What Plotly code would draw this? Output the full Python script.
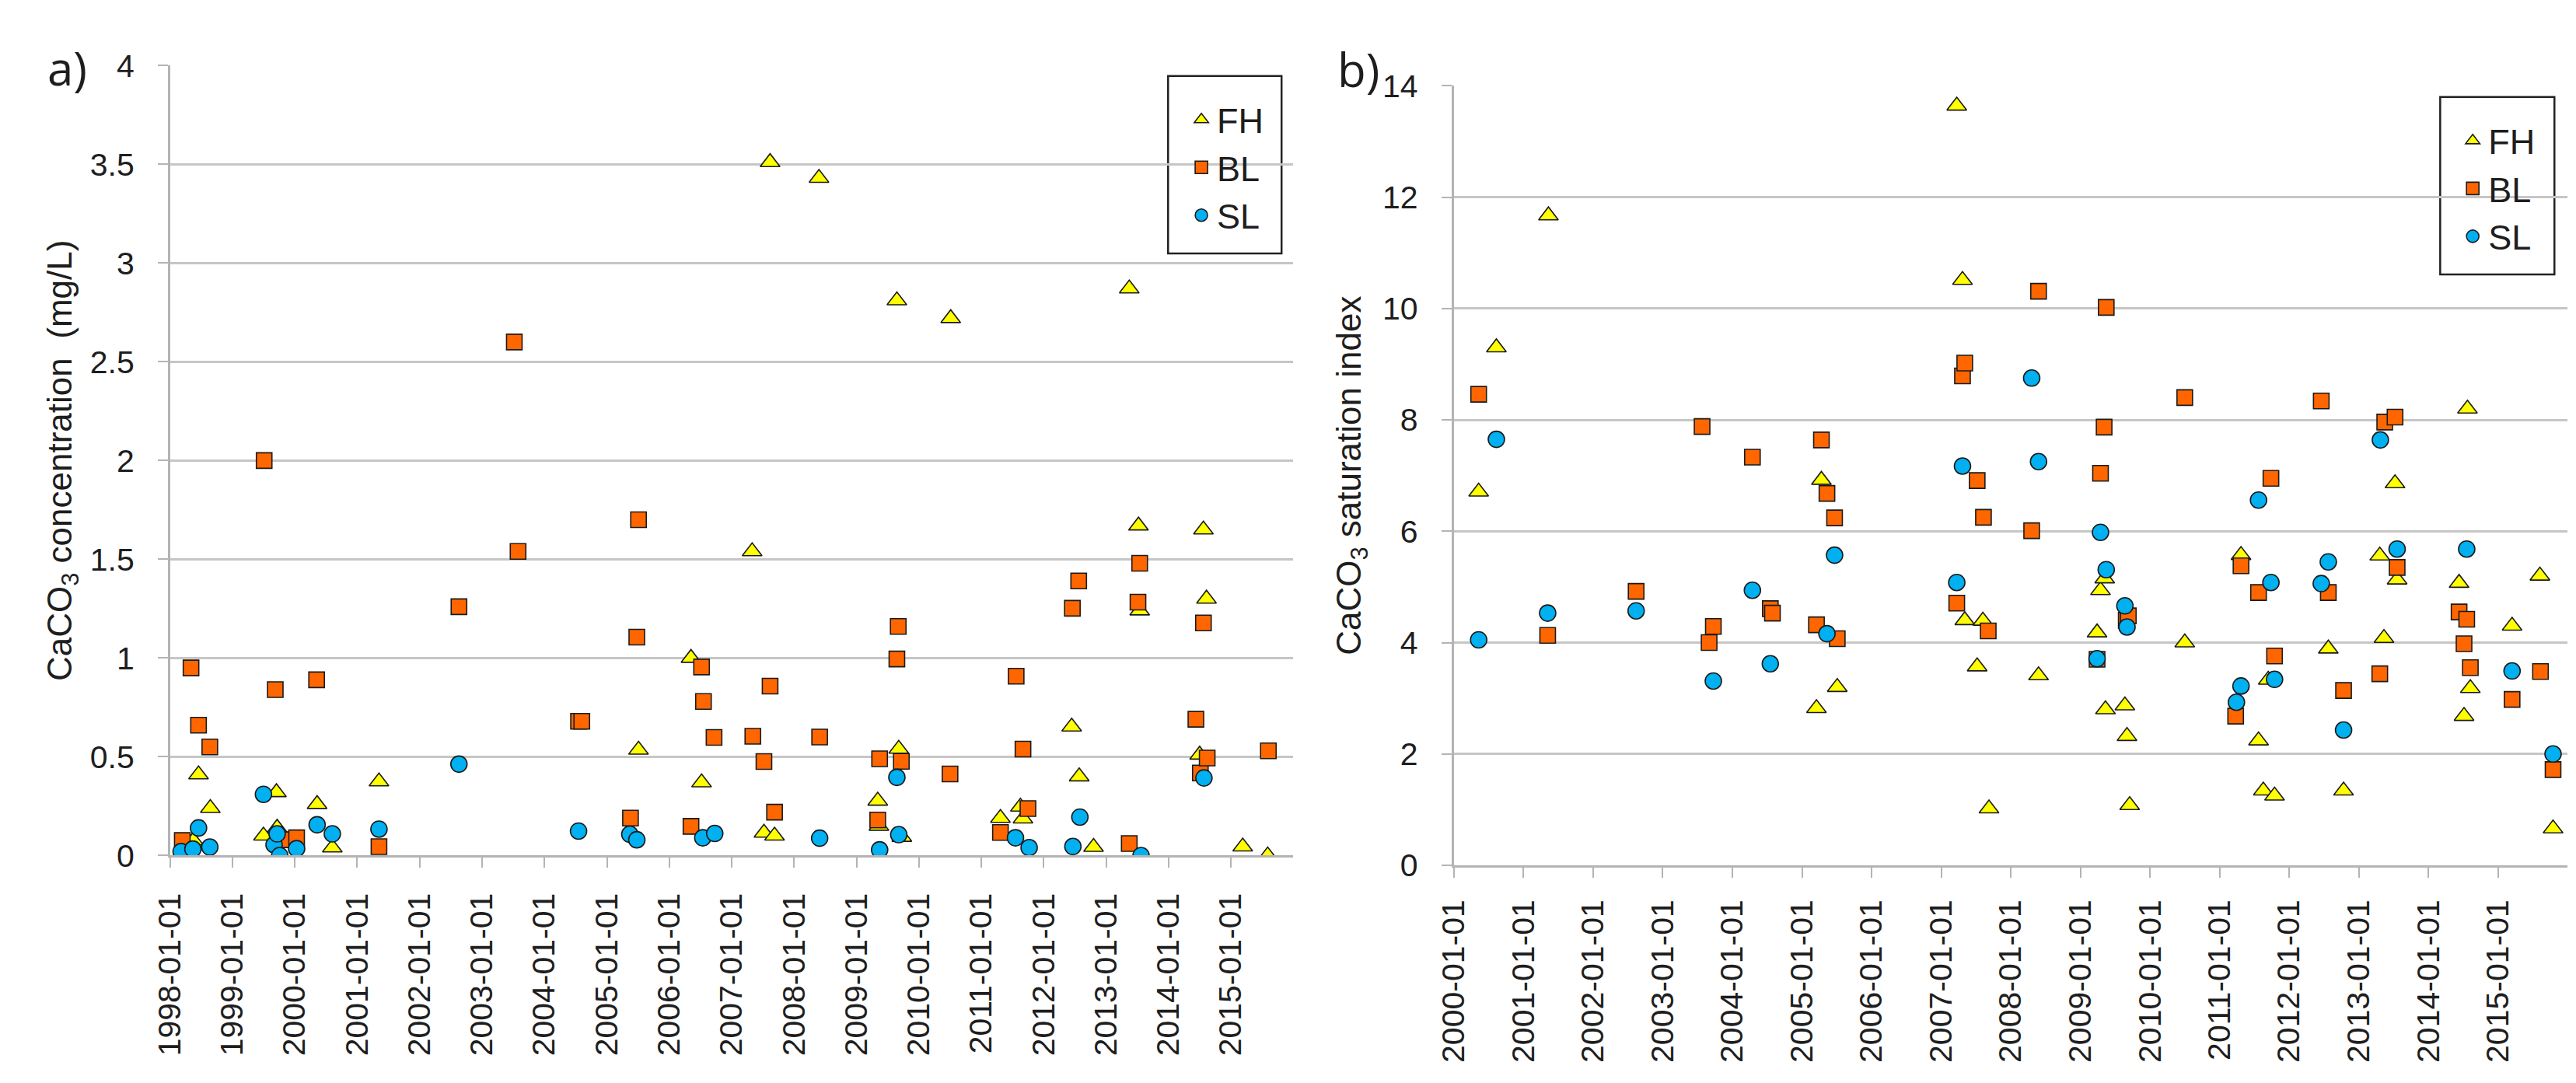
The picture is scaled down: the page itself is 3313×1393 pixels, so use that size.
import plotly.graph_objects as go

# ---------------- Panel a: CaCO3 concentration (mg/L) ----------------
a_fh_dates = ["1998-05-18", "1998-06-17", "1998-08-25", "1999-07-02", "1999-09-16", "1999-09-20",
              "2000-05-11", "2000-08-08", "2001-05-08", "2005-07-05", "2006-05-08", "2006-07-09",
              "2007-05-01", "2007-07-09", "2007-08-14", "2007-09-09", "2008-05-26", "2009-05-05",
              "2009-05-12", "2009-08-25", "2009-09-05", "2009-09-23", "2010-07-06", "2011-04-23",
              "2011-08-18", "2011-09-02", "2012-06-13", "2012-07-27", "2012-10-19", "2013-05-16",
              "2013-07-09", "2013-07-16", "2014-07-02", "2014-07-24", "2014-08-11", "2015-03-11",
              "2015-08-04"]
a_fh_vals = [0.076, 0.41, 0.24, 0.10, 0.32, 0.14,
             0.26, 0.04, 0.375, 0.535, 1.0, 0.37,
             1.54, 0.115, 3.51, 0.10, 3.43, 0.277,
             0.15, 2.81, 0.54, 0.094, 2.72, 0.19,
             0.247, 0.187, 0.652, 0.40, 0.043, 2.87,
             1.67, 1.24, 0.51, 1.65, 1.30, 0.045,
             0.0]

a_bl_dates = ["1998-03-14", "1998-05-04", "1998-06-17", "1998-08-22", "1999-07-06", "1999-09-09",
              "1999-10-19", "2000-01-12", "2000-05-08", "2001-05-08", "2002-08-19", "2003-07-09",
              "2003-07-31", "2004-07-19", "2004-08-07", "2005-05-19", "2005-06-25", "2005-07-05",
              "2006-05-08", "2006-07-09", "2006-07-20", "2006-09-20", "2007-05-05", "2007-07-09",
              "2007-08-14", "2007-09-09", "2008-05-30", "2009-05-05", "2009-05-16", "2009-08-25",
              "2009-09-02", "2009-09-20", "2010-07-02", "2011-04-23", "2011-07-24", "2011-09-02",
              "2011-10-01", "2012-06-17", "2012-07-24", "2013-05-16", "2013-07-06", "2013-07-16",
              "2014-06-10", "2014-07-06", "2014-07-24", "2014-08-15", "2015-08-08"]
a_bl_vals = [0.076, 0.95, 0.66, 0.55, 2.0, 0.84,
             0.08, 0.09, 0.89, 0.045, 1.26, 2.60,
             1.54, 0.68, 0.68, 0.19, 1.106, 1.70,
             0.148, 0.955, 0.78, 0.598, 0.604, 0.476,
             0.858, 0.22, 0.60, 0.18, 0.49, 0.995,
             1.16, 0.477, 0.413, 0.117, 0.908, 0.539,
             0.238, 1.252, 1.39, 0.061, 1.283, 1.48,
             0.69, 0.418, 1.178, 0.494, 0.53]

a_sl_dates = ["1998-03-07", "1998-05-15", "1998-06-17", "1998-08-22", "1999-07-02", "1999-09-02",
              "1999-09-20", "1999-10-05", "2000-01-12", "2000-05-11", "2000-08-08", "2001-05-08",
              "2002-08-19", "2004-07-19", "2005-05-15", "2005-06-25", "2006-07-16", "2006-09-24",
              "2008-05-30", "2009-05-16", "2009-08-25", "2009-09-05", "2011-07-20", "2011-10-08",
              "2012-06-20", "2012-07-31", "2013-07-24", "2014-07-27"]
a_sl_vals = [0.02, 0.033, 0.14, 0.043, 0.31, 0.055,
             0.11, 0.0, 0.035, 0.156, 0.11, 0.134,
             0.463, 0.124, 0.108, 0.08, 0.09, 0.112,
             0.088, 0.029, 0.396, 0.106, 0.09, 0.04,
             0.046, 0.195, 0.0, 0.393]

# ---------------- Panel b: CaCO3 saturation index ----------------
b_fh_dates = ["2000-05-11", "2000-08-12", "2001-05-12", "2005-03-18", "2005-04-13", "2005-07-05",
              "2007-03-24", "2007-04-23", "2007-05-05", "2007-07-09", "2007-08-08", "2007-09-09",
              "2008-05-26", "2009-03-29", "2009-04-16", "2009-05-08", "2009-05-12", "2009-08-22",
              "2009-09-02", "2009-09-16", "2010-07-02", "2011-04-23", "2011-07-24", "2011-08-18",
              "2011-09-13", "2011-10-16", "2012-07-24", "2012-10-12", "2013-04-20", "2013-05-12",
              "2013-07-09", "2013-07-20", "2014-06-10", "2014-07-06", "2014-07-24", "2014-08-08",
              "2015-03-15", "2015-08-08", "2015-10-16"]
b_fh_vals = [6.71, 9.30, 11.67, 2.82, 6.92, 3.20,
             13.64, 10.51, 4.40, 3.57, 4.39, 1.02,
             3.41, 4.18, 4.94, 5.15, 2.80, 2.87,
             2.32, 1.08, 4.0, 5.57, 2.24, 1.34,
             3.33, 1.25, 3.89, 1.34, 5.56, 4.08,
             6.86, 5.13, 5.07, 2.68, 8.20, 3.18,
             4.30, 5.20, 0.66]

b_bl_dates = ["2000-05-11", "2001-05-08", "2002-08-15", "2003-07-27", "2003-09-02", "2003-09-24",
              "2004-04-16", "2004-07-19", "2004-07-30", "2005-03-18", "2005-04-13", "2005-05-12",
              "2005-06-21", "2005-07-05", "2007-03-24", "2007-04-23", "2007-05-05", "2007-07-09",
              "2007-08-11", "2007-09-05", "2008-04-20", "2008-05-26", "2009-03-29", "2009-04-16",
              "2009-05-05", "2009-05-16", "2009-08-29", "2009-09-09", "2010-07-02", "2011-03-26",
              "2011-04-23", "2011-07-24", "2011-09-27", "2011-10-16", "2012-06-17", "2012-07-24",
              "2012-10-12", "2013-04-20", "2013-05-16", "2013-07-09", "2013-07-20", "2014-06-10",
              "2014-07-06", "2014-07-20", "2014-08-08", "2015-03-15", "2015-08-11", "2015-10-16"]
b_bl_vals = [8.46, 4.13, 4.92, 7.88, 4.0, 4.29,
             7.33, 4.61, 4.53, 4.32, 7.64, 6.68,
             6.24, 4.07, 4.71, 8.79, 9.02, 6.91,
             6.25, 4.21, 6.01, 10.31, 3.70, 7.04,
             7.87, 10.02, 4.40, 4.48, 8.40, 2.68,
             5.38, 4.90, 6.95, 3.76, 8.34, 4.90,
             3.14, 3.44, 7.96, 8.05, 5.35, 4.55,
             3.98, 4.42, 3.55, 2.98, 3.48, 1.72]

b_sl_dates = ["2000-05-11", "2000-08-12", "2001-05-08", "2002-08-15", "2003-09-24", "2004-04-16",
              "2004-07-19", "2005-05-12", "2005-06-21", "2007-03-24", "2007-04-23", "2008-04-20",
              "2008-05-26", "2009-03-29", "2009-04-16", "2009-05-16", "2009-08-22", "2009-09-02",
              "2011-03-30", "2011-04-23", "2011-07-24", "2011-09-27", "2011-10-16", "2012-06-17",
              "2012-07-24", "2012-10-12", "2013-04-23", "2013-07-20", "2014-07-20", "2015-03-15",
              "2015-10-16"]
b_sl_vals = [4.05, 7.65, 4.53, 4.57, 3.31, 4.94,
             3.62, 4.16, 5.57, 5.08, 7.17, 8.75,
             7.25, 3.71, 5.98, 5.31, 4.66, 4.28,
             2.93, 3.22, 6.56, 5.08, 3.34, 5.06,
             5.45, 2.43, 7.64, 5.68, 5.68, 3.49,
             2.0]

series_names = ["FH", "BL", "SL"]
series_symbols = ["triangle-up", "square", "circle"]
series_sizes = [22, 20, 21]
series_colors = ["#FFFF00", "#FF6600", "#00B0F0"]

W, H = 3313, 1393
FONT = "Arial"
GRID = "#c6c6c6"
AXIS = "#b4b4b4"
TXT = "#1e1e1e"

fig = go.Figure()

panels = [
    ("x", "y", "legend", [(a_fh_dates, a_fh_vals), (a_bl_dates, a_bl_vals), (a_sl_dates, a_sl_vals)]),
    ("x2", "y2", "legend2", [(b_fh_dates, b_fh_vals), (b_bl_dates, b_bl_vals), (b_sl_dates, b_sl_vals)]),
]
for xa, ya, leg, data in panels:
    for i, (d, v) in enumerate(data):
        fig.add_trace(go.Scatter(
            x=d, y=v, mode="markers", name=series_names[i],
            xaxis=xa, yaxis=ya, legend=leg,
            marker=dict(symbol=series_symbols[i], size=series_sizes[i], color=series_colors[i],
                        line=dict(color="#1a1a1a", width=1.6)),
        ))

def px_x(p):
    return p / W

def px_y(p):
    return 1 - p / H

tickfont = dict(family=FONT, size=41, color=TXT)
common_x = dict(type="date", tickformat="%Y-%m-%d", dtick="M12", tickangle=-90,
                showgrid=False, zeroline=False, showline=True, linecolor=AXIS, linewidth=2.5,
                ticks="outside", ticklen=13, tickwidth=2, tickcolor=AXIS, tickfont=tickfont)
common_y = dict(showgrid=True, gridcolor=GRID, gridwidth=2.5, zeroline=False,
                showline=True, linecolor=AXIS, linewidth=2.5,
                ticks="outside", ticklen=13, tickwidth=2, tickcolor=AXIS, tickfont=tickfont)

fig.update_layout(
    width=W, height=H,
    margin=dict(l=0, r=0, t=0, b=0),
    paper_bgcolor="white", plot_bgcolor="white",
    font=dict(family=FONT, color=TXT),
    xaxis=dict(common_x, domain=[px_x(188), px_x(1643)], range=["1998-01-01", "2015-12-31"],
               tick0="1998-01-01", anchor="y", ticklabelstandoff=16),
    yaxis=dict(common_y, domain=[px_y(1106), px_y(55)], range=[0, 4], dtick=0.5, anchor="x",
               ticklabelstandoff=22,
               title=dict(text="CaCO<sub>3</sub> concentration \u00a0(mg/L)",
                          font=dict(family=FONT, size=44, color=TXT), standoff=10)),
    xaxis2=dict(common_x, domain=[px_x(1851), px_x(3294)], range=["2000-01-01", "2015-12-31"],
                tick0="2000-01-01", anchor="y2", ticklabelstandoff=12),
    yaxis2=dict(common_y, domain=[px_y(1119), px_y(82)], range=[0, 14], dtick=2, anchor="x2",
                ticklabelstandoff=22,
                title=dict(text="CaCO<sub>3</sub> saturation index",
                           font=dict(family=FONT, size=44, color=TXT), standoff=14)),
    legend=dict(x=px_x(1504), y=px_y(90), xanchor="left", yanchor="top",
                bgcolor="rgba(0,0,0,0)", borderwidth=0, traceorder="normal",
                font=dict(family=FONT, size=45, color=TXT)),
    legend2=dict(x=px_x(3151), y=px_y(118), xanchor="left", yanchor="top",
                 bgcolor="rgba(0,0,0,0)", borderwidth=0, traceorder="normal",
                 font=dict(family=FONT, size=45, color=TXT)),
    shapes=[
        dict(type="rect", xref="paper", yref="paper", x0=px_x(1481), x1=px_x(1628), y0=px_y(305), y1=px_y(69),
             line=dict(color="#222222", width=2.5), fillcolor="white", layer="below"),
        dict(type="rect", xref="paper", yref="paper", x0=px_x(3129), x1=px_x(3277), y0=px_y(333), y1=px_y(97),
             line=dict(color="#222222", width=2.5), fillcolor="white", layer="below"),
    ],
    annotations=[
        dict(text="a)", xref="paper", yref="paper", x=px_x(55), y=px_y(58), showarrow=False,
             xanchor="center", yanchor="middle", font=dict(family="Open Sans", size=60, color=TXT)),
        dict(text="b)", xref="paper", yref="paper", x=px_x(1728), y=px_y(60), showarrow=False,
             xanchor="center", yanchor="middle", font=dict(family="Open Sans", size=60, color=TXT)),
    ],
)

fig.write_html("out.html")
